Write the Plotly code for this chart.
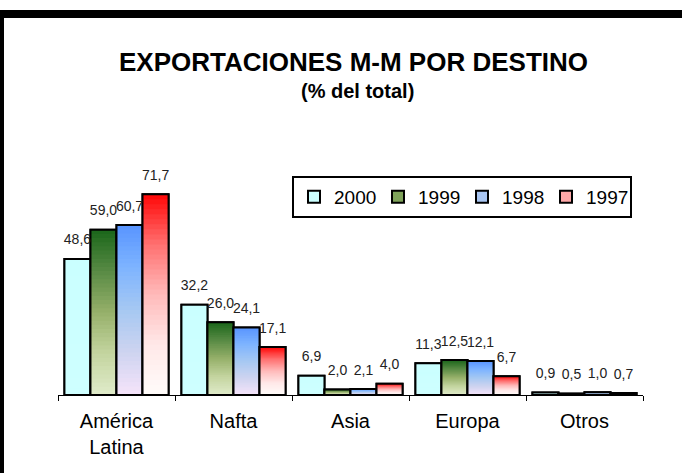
import plotly.graph_objects as go

# data
categories = ['América<br>Latina', 'Nafta', 'Asia', 'Europa', 'Otros']
years = ['2000', '1999', '1998', '1997']
v2000 = [48.6, 32.2, 6.9, 11.3, 0.9]
v1999 = [59.0, 26.0, 2.0, 12.5, 0.5]
v1998 = [60.7, 24.1, 2.1, 12.1, 1.0]
v1997 = [71.7, 17.1, 4.0, 6.7, 0.7]
series = [v2000, v1999, v1998, v1997]

# gradient stops (position from bottom, rgb) for each year, bottom pale -> top strong
gradients = {
    '2000': [(0, (206, 255, 255)), (1, (202, 255, 255))],
    '1999': [(0, (224, 235, 202)), (0.25, (196, 213, 160)), (0.5, (150, 176, 106)),
             (0.75, (88, 138, 68)), (1, (26, 102, 26))],
    '1998': [(0, (246, 228, 250)), (0.25, (206, 212, 240)), (0.5, (166, 200, 242)),
             (0.75, (126, 180, 255)), (1, (88, 148, 255))],
    '1997': [(0, (255, 252, 250)), (0.25, (255, 232, 232)), (0.5, (255, 186, 186)),
             (0.75, (255, 112, 112)), (1, (255, 6, 6))],
}
legend_colors = {'2000': '#CCFFFF', '1999': '#7FA35A', '1998': '#A9C6F2', '1997': '#FFA8A8'}

FONT = 'Liberation Sans, Arial, sans-serif'
W, H = 682, 473
L, R, T, B = 58, 39, 171, 78
N = 40  # steps per bar for the gradient


def px_x(px):
    return (px - L) / (W - L - R)


def px_y(py):
    return (H - B - py) / (H - T - B)


def grad_color(stops, t):
    for (p0, c0), (p1, c1) in zip(stops[:-1], stops[1:]):
        if p0 <= t <= p1:
            f = (t - p0) / (p1 - p0)
            c = [round(a + (b - a) * f) for a, b in zip(c0, c1)]
            return 'rgb(%d,%d,%d)' % tuple(c)
    return 'rgb(%d,%d,%d)' % stops[-1][1]


fig = go.Figure()
for year, vals in zip(years, series):
    # full bar underneath, used for the legend entry
    fig.add_trace(go.Bar(x=categories, y=vals, name=year, offsetgroup=year,
                         marker=dict(color=legend_colors[year], line=dict(color='black', width=2)),
                         hoverinfo='skip'))
    # gradient: overlapping bars from the axis, tallest first, each shorter one on top
    for i in range(N - 1, -1, -1):
        fig.add_trace(go.Bar(x=categories, y=[v * (i + 1) / N for v in vals], offsetgroup=year,
                             marker=dict(color=grad_color(gradients[year], (i + 0.5) / N),
                                         line=dict(width=0)),
                             showlegend=False, hoverinfo='skip'))
    # outline on top
    fig.add_trace(go.Bar(x=categories, y=vals, offsetgroup=year, showlegend=False,
                         marker=dict(color='rgba(0,0,0,0)', line=dict(color='black', width=2)),
                         hoverinfo='skip'))

# value labels
for year, vals in zip(years, series):
    fig.add_trace(go.Scatter(x=categories, y=vals, offsetgroup=year, mode='markers+text',
                             text=[('%.1f' % v).replace('.', ',') for v in vals],
                             textposition='top center', cliponaxis=False,
                             marker=dict(size=16, opacity=0),
                             textfont=dict(size=14, color='#222222'),
                             showlegend=False, hoverinfo='skip'))

fig.update_layout(
    width=W, height=H,
    margin=dict(l=L, r=R, t=T, b=B, autoexpand=False),
    paper_bgcolor='white', plot_bgcolor='white',
    font=dict(family=FONT, color='black'),
    barmode='group', bargap=0.11, bargroupgap=0,
    scattermode='group', scattergap=0.11,
    hovermode=False,
    showlegend=True,
    legend=dict(orientation='h', x=px_x(292), y=px_y(176), xanchor='left', yanchor='top',
                bordercolor='black', borderwidth=2, font=dict(size=19, family=FONT),
                traceorder='normal', itemwidth=30, entrywidth=39),
    annotations=[
        dict(text='<b>EXPORTACIONES M-M POR DESTINO</b>', x=px_x(353), y=px_y(62),
             xref='paper', yref='paper', xanchor='center', yanchor='middle',
             showarrow=False, font=dict(size=26, family=FONT)),
        dict(text='<b>(% del total)</b>', x=px_x(357), y=px_y(91),
             xref='paper', yref='paper', xanchor='center', yanchor='middle',
             showarrow=False, font=dict(size=20, family=FONT)),
    ],
    shapes=[
        dict(type='rect', xref='paper', yref='paper', x0=px_x(0), x1=px_x(W),
             y0=px_y(18), y1=px_y(10), fillcolor='black', line=dict(width=0)),
        dict(type='rect', xref='paper', yref='paper', x0=px_x(0), x1=px_x(4),
             y0=px_y(H), y1=px_y(10), fillcolor='black', line=dict(width=0)),
    ],
)
fig.update_xaxes(showline=True, linecolor='black', linewidth=1, ticks='outside',
                 tickson='boundaries', ticklen=5, tickcolor='black', ticklabelstandoff=8,
                 tickfont=dict(size=20, family=FONT), showgrid=False, fixedrange=True)
fig.update_yaxes(range=[0, 80], visible=False, showgrid=False, fixedrange=True)

# page body has a default margin; drop it so the figure sits at the window corner
fig.write_html('out.html', config={'displayModeBar': False, 'staticPlot': True},
               post_script="document.body.style.margin='0';")
